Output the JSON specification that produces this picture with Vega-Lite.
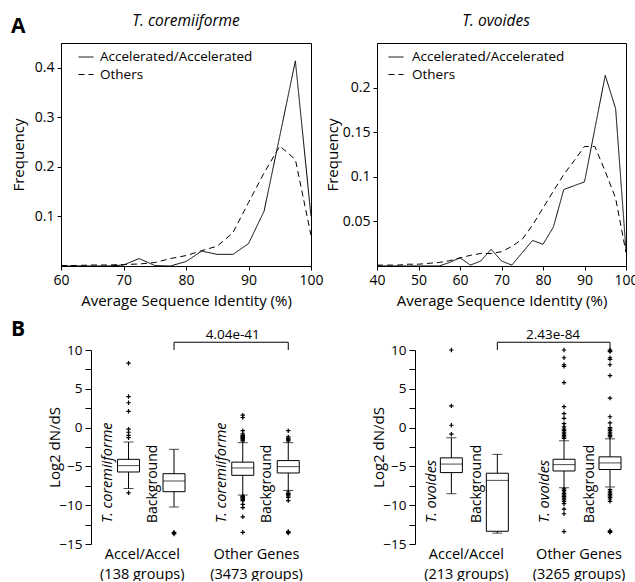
{
  "$schema": "https://vega.github.io/schema/vega-lite/v6.json",
  "padding": {"left": 10, "top": 13, "right": 2, "bottom": 0},
  "background": "white",
  "config": {
    "font": "Open Sans",
    "view": {"stroke": "black", "strokeWidth": 1},
    "axis": {"labelFont": "Open Sans", "titleFont": "Open Sans", "labelColor": "black", "titleColor": "black", "domainColor": "black", "tickColor": "black", "labelFontSize": 14, "titleFontSize": 15, "titleFontWeight": "normal", "grid": false, "tickSize": 4, "labelPadding": 3, "labelOverlap": false},
    "legend": {"labelFont": "Open Sans", "labelFontSize": 13.5, "labelColor": "black"},
    "text": {"font": "Open Sans", "color": "black"}
  },
  "datasets": {
    "tl": [
      {"identity": 60, "freq": 0, "type": "Accelerated/Accelerated"},
      {"identity": 62.5, "freq": 0, "type": "Accelerated/Accelerated"},
      {"identity": 65, "freq": 0, "type": "Accelerated/Accelerated"},
      {"identity": 67.5, "freq": 0, "type": "Accelerated/Accelerated"},
      {"identity": 70, "freq": 0.002, "type": "Accelerated/Accelerated"},
      {"identity": 72.5, "freq": 0.015, "type": "Accelerated/Accelerated"},
      {"identity": 75, "freq": 0.001, "type": "Accelerated/Accelerated"},
      {"identity": 77.5, "freq": 0, "type": "Accelerated/Accelerated"},
      {"identity": 80, "freq": 0.009, "type": "Accelerated/Accelerated"},
      {"identity": 82.5, "freq": 0.030, "type": "Accelerated/Accelerated"},
      {"identity": 85, "freq": 0.0235, "type": "Accelerated/Accelerated"},
      {"identity": 87.5, "freq": 0.0235, "type": "Accelerated/Accelerated"},
      {"identity": 90, "freq": 0.045, "type": "Accelerated/Accelerated"},
      {"identity": 92.5, "freq": 0.111, "type": "Accelerated/Accelerated"},
      {"identity": 95, "freq": 0.262, "type": "Accelerated/Accelerated"},
      {"identity": 97.5, "freq": 0.414, "type": "Accelerated/Accelerated"},
      {"identity": 100, "freq": 0.10, "type": "Accelerated/Accelerated"},
      {"identity": 60, "freq": 0.001, "type": "Others"},
      {"identity": 62.5, "freq": 0.001, "type": "Others"},
      {"identity": 65, "freq": 0.002, "type": "Others"},
      {"identity": 67.5, "freq": 0.002, "type": "Others"},
      {"identity": 70, "freq": 0.003, "type": "Others"},
      {"identity": 72.5, "freq": 0.004, "type": "Others"},
      {"identity": 75, "freq": 0.007, "type": "Others"},
      {"identity": 77.5, "freq": 0.015, "type": "Others"},
      {"identity": 80, "freq": 0.021, "type": "Others"},
      {"identity": 82.5, "freq": 0.031, "type": "Others"},
      {"identity": 85, "freq": 0.040, "type": "Others"},
      {"identity": 87.5, "freq": 0.067, "type": "Others"},
      {"identity": 90, "freq": 0.128, "type": "Others"},
      {"identity": 92.5, "freq": 0.188, "type": "Others"},
      {"identity": 95, "freq": 0.242, "type": "Others"},
      {"identity": 97.5, "freq": 0.215, "type": "Others"},
      {"identity": 100, "freq": 0.062, "type": "Others"}
    ],
    "tr": [
      {"identity": 40, "freq": 0, "type": "Accelerated/Accelerated"},
      {"identity": 42.5, "freq": 0, "type": "Accelerated/Accelerated"},
      {"identity": 45, "freq": 0, "type": "Accelerated/Accelerated"},
      {"identity": 47.5, "freq": 0, "type": "Accelerated/Accelerated"},
      {"identity": 50, "freq": 0, "type": "Accelerated/Accelerated"},
      {"identity": 52.5, "freq": 0, "type": "Accelerated/Accelerated"},
      {"identity": 55, "freq": 0, "type": "Accelerated/Accelerated"},
      {"identity": 57.5, "freq": 0.004, "type": "Accelerated/Accelerated"},
      {"identity": 60, "freq": 0.0093, "type": "Accelerated/Accelerated"},
      {"identity": 62.5, "freq": 0.001, "type": "Accelerated/Accelerated"},
      {"identity": 65, "freq": 0.0056, "type": "Accelerated/Accelerated"},
      {"identity": 67.5, "freq": 0.0187, "type": "Accelerated/Accelerated"},
      {"identity": 70, "freq": 0.0056, "type": "Accelerated/Accelerated"},
      {"identity": 72.5, "freq": 0.001, "type": "Accelerated/Accelerated"},
      {"identity": 75, "freq": 0.015, "type": "Accelerated/Accelerated"},
      {"identity": 77.5, "freq": 0.0287, "type": "Accelerated/Accelerated"},
      {"identity": 80, "freq": 0.0243, "type": "Accelerated/Accelerated"},
      {"identity": 82.5, "freq": 0.0436, "type": "Accelerated/Accelerated"},
      {"identity": 85, "freq": 0.0857, "type": "Accelerated/Accelerated"},
      {"identity": 87.5, "freq": 0.09, "type": "Accelerated/Accelerated"},
      {"identity": 90, "freq": 0.0943, "type": "Accelerated/Accelerated"},
      {"identity": 92.5, "freq": 0.154, "type": "Accelerated/Accelerated"},
      {"identity": 95, "freq": 0.2137, "type": "Accelerated/Accelerated"},
      {"identity": 97.5, "freq": 0.1764, "type": "Accelerated/Accelerated"},
      {"identity": 100, "freq": 0.017, "type": "Accelerated/Accelerated"},
      {"identity": 40, "freq": 0.001, "type": "Others"},
      {"identity": 42.5, "freq": 0.001, "type": "Others"},
      {"identity": 45, "freq": 0.001, "type": "Others"},
      {"identity": 47.5, "freq": 0.002, "type": "Others"},
      {"identity": 50, "freq": 0.002, "type": "Others"},
      {"identity": 52.5, "freq": 0.003, "type": "Others"},
      {"identity": 55, "freq": 0.004, "type": "Others"},
      {"identity": 57.5, "freq": 0.006, "type": "Others"},
      {"identity": 60, "freq": 0.009, "type": "Others"},
      {"identity": 62.5, "freq": 0.012, "type": "Others"},
      {"identity": 65, "freq": 0.014, "type": "Others"},
      {"identity": 67.5, "freq": 0.014, "type": "Others"},
      {"identity": 70, "freq": 0.016, "type": "Others"},
      {"identity": 72.5, "freq": 0.022, "type": "Others"},
      {"identity": 75, "freq": 0.030, "type": "Others"},
      {"identity": 77.5, "freq": 0.046, "type": "Others"},
      {"identity": 80, "freq": 0.065, "type": "Others"},
      {"identity": 82.5, "freq": 0.084, "type": "Others"},
      {"identity": 85, "freq": 0.1025, "type": "Others"},
      {"identity": 87.5, "freq": 0.118, "type": "Others"},
      {"identity": 90, "freq": 0.134, "type": "Others"},
      {"identity": 92.5, "freq": 0.134, "type": "Others"},
      {"identity": 95, "freq": 0.106, "type": "Others"},
      {"identity": 97.5, "freq": 0.076, "type": "Others"},
      {"identity": 100, "freq": 0.015, "type": "Others"}
    ],
    "bl_box": [
      {"group": "Accel/Accel", "series": "T. coremiiforme", "lo": -7.85, "q1": -5.72, "med": -4.9, "q3": -4.09, "hi": -1.86},
      {"group": "Accel/Accel", "series": "Background", "lo": -10.23, "q1": -8.26, "med": -6.88, "q3": -5.94, "hi": -2.8},
      {"group": "Other Genes", "series": "T. coremiiforme", "lo": -8.69, "q1": -6.15, "med": -5.2, "q3": -4.45, "hi": -1.94},
      {"group": "Other Genes", "series": "Background", "lo": -8.1, "q1": -5.85, "med": -5.03, "q3": -4.25, "hi": -1.94}
    ],
    "bl_out": [
      {"group": "Accel/Accel", "series": "T. coremiiforme", "v": 8.3},
      {"group": "Accel/Accel", "series": "T. coremiiforme", "v": 4.0},
      {"group": "Accel/Accel", "series": "T. coremiiforme", "v": 3.2},
      {"group": "Accel/Accel", "series": "T. coremiiforme", "v": 2.1},
      {"group": "Accel/Accel", "series": "T. coremiiforme", "v": -0.2},
      {"group": "Accel/Accel", "series": "T. coremiiforme", "v": -0.6},
      {"group": "Accel/Accel", "series": "T. coremiiforme", "v": -1.0},
      {"group": "Accel/Accel", "series": "T. coremiiforme", "v": -1.3},
      {"group": "Accel/Accel", "series": "T. coremiiforme", "v": -8.4},
      {"group": "Accel/Accel", "series": "Background", "v": -13.5},
      {"group": "Accel/Accel", "series": "Background", "v": -13.6},
      {"group": "Accel/Accel", "series": "Background", "v": -13.7},
      {"group": "Other Genes", "series": "T. coremiiforme", "v": 1.6},
      {"group": "Other Genes", "series": "T. coremiiforme", "v": 1.3},
      {"group": "Other Genes", "series": "T. coremiiforme", "v": -0.4},
      {"group": "Other Genes", "series": "T. coremiiforme", "v": -0.8},
      {"group": "Other Genes", "series": "T. coremiiforme", "v": -1.0},
      {"group": "Other Genes", "series": "T. coremiiforme", "v": -1.1},
      {"group": "Other Genes", "series": "T. coremiiforme", "v": -1.2},
      {"group": "Other Genes", "series": "T. coremiiforme", "v": -1.3},
      {"group": "Other Genes", "series": "T. coremiiforme", "v": -1.4},
      {"group": "Other Genes", "series": "T. coremiiforme", "v": -1.5},
      {"group": "Other Genes", "series": "T. coremiiforme", "v": -1.6},
      {"group": "Other Genes", "series": "T. coremiiforme", "v": -1.7},
      {"group": "Other Genes", "series": "T. coremiiforme", "v": -8.8},
      {"group": "Other Genes", "series": "T. coremiiforme", "v": -8.9},
      {"group": "Other Genes", "series": "T. coremiiforme", "v": -9.0},
      {"group": "Other Genes", "series": "T. coremiiforme", "v": -9.1},
      {"group": "Other Genes", "series": "T. coremiiforme", "v": -9.2},
      {"group": "Other Genes", "series": "T. coremiiforme", "v": -9.3},
      {"group": "Other Genes", "series": "T. coremiiforme", "v": -9.4},
      {"group": "Other Genes", "series": "T. coremiiforme", "v": -9.9},
      {"group": "Other Genes", "series": "T. coremiiforme", "v": -10.3},
      {"group": "Other Genes", "series": "T. coremiiforme", "v": -11.5},
      {"group": "Other Genes", "series": "T. coremiiforme", "v": -13.5},
      {"group": "Other Genes", "series": "Background", "v": -0.4},
      {"group": "Other Genes", "series": "Background", "v": -1.2},
      {"group": "Other Genes", "series": "Background", "v": -1.4},
      {"group": "Other Genes", "series": "Background", "v": -1.5},
      {"group": "Other Genes", "series": "Background", "v": -1.6},
      {"group": "Other Genes", "series": "Background", "v": -1.7},
      {"group": "Other Genes", "series": "Background", "v": -8.3},
      {"group": "Other Genes", "series": "Background", "v": -8.5},
      {"group": "Other Genes", "series": "Background", "v": -8.6},
      {"group": "Other Genes", "series": "Background", "v": -8.8},
      {"group": "Other Genes", "series": "Background", "v": -9.0},
      {"group": "Other Genes", "series": "Background", "v": -9.4},
      {"group": "Other Genes", "series": "Background", "v": -13.4},
      {"group": "Other Genes", "series": "Background", "v": -13.5},
      {"group": "Other Genes", "series": "Background", "v": -13.6}
    ],
    "bl_br": [
      {"group": "Accel/Accel", "series": "Background", "v": 10, "o": 1},
      {"group": "Accel/Accel", "series": "Background", "v": 11, "o": 2},
      {"group": "Other Genes", "series": "Background", "v": 11, "o": 3},
      {"group": "Other Genes", "series": "Background", "v": 10, "o": 4}
    ],
    "bl_p": [{"group": "Other Genes", "series": "T. coremiiforme", "p": "4.04e-41"}],
    "br_box": [
      {"group": "Accel/Accel", "series": "T. ovoides", "lo": -8.52, "q1": -5.8, "med": -4.7, "q3": -3.9, "hi": -1.31},
      {"group": "Accel/Accel", "series": "Background", "lo": -13.6, "q1": -13.36, "med": -6.8, "q3": -5.88, "hi": -3.45},
      {"group": "Other Genes", "series": "T. ovoides", "lo": -7.75, "q1": -5.59, "med": -4.77, "q3": -4.08, "hi": -1.7},
      {"group": "Other Genes", "series": "Background", "lo": -7.65, "q1": -5.4, "med": -4.55, "q3": -3.77, "hi": -1.45}
    ],
    "br_out": [
      {"group": "Accel/Accel", "series": "T. ovoides", "v": 10},
      {"group": "Accel/Accel", "series": "T. ovoides", "v": 2.8},
      {"group": "Accel/Accel", "series": "T. ovoides", "v": 0.3},
      {"group": "Accel/Accel", "series": "T. ovoides", "v": -0.85},
      {"group": "Other Genes", "series": "T. ovoides", "v": 10},
      {"group": "Other Genes", "series": "T. ovoides", "v": 9.0},
      {"group": "Other Genes", "series": "T. ovoides", "v": 8.1},
      {"group": "Other Genes", "series": "T. ovoides", "v": 7.9},
      {"group": "Other Genes", "series": "T. ovoides", "v": 5.8},
      {"group": "Other Genes", "series": "T. ovoides", "v": 2.7},
      {"group": "Other Genes", "series": "T. ovoides", "v": 1.8},
      {"group": "Other Genes", "series": "T. ovoides", "v": 1.2},
      {"group": "Other Genes", "series": "T. ovoides", "v": 0.5},
      {"group": "Other Genes", "series": "T. ovoides", "v": 0.1},
      {"group": "Other Genes", "series": "T. ovoides", "v": -0.2},
      {"group": "Other Genes", "series": "T. ovoides", "v": -0.4},
      {"group": "Other Genes", "series": "T. ovoides", "v": -0.6},
      {"group": "Other Genes", "series": "T. ovoides", "v": -0.8},
      {"group": "Other Genes", "series": "T. ovoides", "v": -1.0},
      {"group": "Other Genes", "series": "T. ovoides", "v": -1.2},
      {"group": "Other Genes", "series": "T. ovoides", "v": -1.4},
      {"group": "Other Genes", "series": "T. ovoides", "v": -7.9},
      {"group": "Other Genes", "series": "T. ovoides", "v": -8.1},
      {"group": "Other Genes", "series": "T. ovoides", "v": -8.3},
      {"group": "Other Genes", "series": "T. ovoides", "v": -8.5},
      {"group": "Other Genes", "series": "T. ovoides", "v": -8.7},
      {"group": "Other Genes", "series": "T. ovoides", "v": -8.9},
      {"group": "Other Genes", "series": "T. ovoides", "v": -9.1},
      {"group": "Other Genes", "series": "T. ovoides", "v": -9.3},
      {"group": "Other Genes", "series": "T. ovoides", "v": -9.5},
      {"group": "Other Genes", "series": "T. ovoides", "v": -9.8},
      {"group": "Other Genes", "series": "T. ovoides", "v": -10.5},
      {"group": "Other Genes", "series": "T. ovoides", "v": -11.1},
      {"group": "Other Genes", "series": "T. ovoides", "v": -13.4},
      {"group": "Other Genes", "series": "Background", "v": 10},
      {"group": "Other Genes", "series": "Background", "v": 9.9},
      {"group": "Other Genes", "series": "Background", "v": 9.8},
      {"group": "Other Genes", "series": "Background", "v": 9.0},
      {"group": "Other Genes", "series": "Background", "v": 8.8},
      {"group": "Other Genes", "series": "Background", "v": 8.1},
      {"group": "Other Genes", "series": "Background", "v": 6.7},
      {"group": "Other Genes", "series": "Background", "v": 3.8},
      {"group": "Other Genes", "series": "Background", "v": 1.4},
      {"group": "Other Genes", "series": "Background", "v": 0.6},
      {"group": "Other Genes", "series": "Background", "v": 0.0},
      {"group": "Other Genes", "series": "Background", "v": -0.2},
      {"group": "Other Genes", "series": "Background", "v": -0.4},
      {"group": "Other Genes", "series": "Background", "v": -0.6},
      {"group": "Other Genes", "series": "Background", "v": -0.8},
      {"group": "Other Genes", "series": "Background", "v": -1.0},
      {"group": "Other Genes", "series": "Background", "v": -1.2},
      {"group": "Other Genes", "series": "Background", "v": -8.0},
      {"group": "Other Genes", "series": "Background", "v": -8.2},
      {"group": "Other Genes", "series": "Background", "v": -8.4},
      {"group": "Other Genes", "series": "Background", "v": -8.6},
      {"group": "Other Genes", "series": "Background", "v": -8.8},
      {"group": "Other Genes", "series": "Background", "v": -9.0},
      {"group": "Other Genes", "series": "Background", "v": -9.2},
      {"group": "Other Genes", "series": "Background", "v": -9.5},
      {"group": "Other Genes", "series": "Background", "v": -13.3},
      {"group": "Other Genes", "series": "Background", "v": -13.4},
      {"group": "Other Genes", "series": "Background", "v": -13.5}
    ],
    "br_br": [
      {"group": "Accel/Accel", "series": "Background", "v": 10, "o": 1},
      {"group": "Accel/Accel", "series": "Background", "v": 11, "o": 2},
      {"group": "Other Genes", "series": "Background", "v": 11, "o": 3},
      {"group": "Other Genes", "series": "Background", "v": 10, "o": 4}
    ],
    "br_p": [{"group": "Other Genes", "series": "T. ovoides", "p": "2.43e-84"}]
  },
  "columns": 2,
  "spacing": {"row": 84, "column": 66},
  "bounds": "flush",
  "align": "each",
  "concat": [
    {
      "width": 250,
      "height": 223,
      "layer": [
        {
          "data": {"name": "tl"},
          "mark": {"type": "line", "color": "black", "strokeWidth": 1},
          "encoding": {
            "x": {"field": "identity", "type": "quantitative", "scale": {"domain": [60, 100], "nice": false, "zero": false},
                  "axis": {"title": "Average Sequence Identity (%)", "values": [60, 70, 80, 90, 100], "labelFlush": false, "titlePadding": 6}},
            "y": {"field": "freq", "type": "quantitative", "scale": {"domain": [0, 0.45], "nice": false},
                  "axis": {"title": "Frequency", "values": [0.1, 0.2, 0.3, 0.4], "format": "~g", "titlePadding": 7.5}},
            "strokeDash": {"field": "type", "type": "nominal",
                  "scale": {"domain": ["Accelerated/Accelerated", "Others"], "range": [[1, 0], [6, 4]]},
                  "legend": {"title": null, "orient": "none", "legendX": 17, "legendY": 6, "symbolType": "stroke", "symbolSize": 225, "symbolStrokeColor": "black", "symbolStrokeWidth": 1, "labelOffset": 6, "rowPadding": 2.5, "padding": 0}}
          }
        },
        {
          "data": {"values": [{}]},
          "mark": {"type": "text", "text": "T. coremiiforme", "fontStyle": "italic", "fontSize": 15.5, "align": "center", "baseline": "alphabetic"},
          "encoding": {"x": {"datum": 80, "type": "quantitative"}, "y": {"datum": 0.4843, "type": "quantitative"}}
        },
        {
          "data": {"values": [{}]},
          "mark": {"type": "text", "text": "A", "fontWeight": "bold", "fontSize": 21, "align": "left", "baseline": "alphabetic"},
          "encoding": {"x": {"datum": 52, "type": "quantitative"}, "y": {"datum": 0.4702, "type": "quantitative"}}
        },
        {
          "data": {"values": [{}]},
          "mark": {"type": "text", "text": "B", "fontWeight": "bold", "fontSize": 21, "align": "left", "baseline": "alphabetic"},
          "encoding": {"x": {"datum": 52, "type": "quantitative"}, "y": {"datum": -0.1413, "type": "quantitative"}}
        }
      ]
    },
    {
      "width": 249,
      "height": 223,
      "layer": [
        {
          "data": {"name": "tr"},
          "mark": {"type": "line", "color": "black", "strokeWidth": 1},
          "encoding": {
            "x": {"field": "identity", "type": "quantitative", "scale": {"domain": [40, 100], "nice": false, "zero": false},
                  "axis": {"title": "Average Sequence Identity (%)", "values": [40, 50, 60, 70, 80, 90, 100], "labelFlush": false, "titlePadding": 6}},
            "y": {"field": "freq", "type": "quantitative", "scale": {"domain": [0, 0.25], "nice": false},
                  "axis": {"title": "Frequency", "values": [0.05, 0.1, 0.15, 0.2], "format": "~g", "titlePadding": 1.5}},
            "strokeDash": {"field": "type", "type": "nominal",
                  "scale": {"domain": ["Accelerated/Accelerated", "Others"], "range": [[1, 0], [6, 4]]},
                  "legend": {"title": null, "orient": "none", "legendX": 11, "legendY": 6, "symbolType": "stroke", "symbolSize": 225, "symbolStrokeColor": "black", "symbolStrokeWidth": 1, "labelOffset": 8, "rowPadding": 2.5, "padding": 0}}
          }
        },
        {
          "data": {"values": [{}]},
          "mark": {"type": "text", "text": "T. ovoides", "fontStyle": "italic", "fontSize": 15.5, "align": "center", "baseline": "alphabetic"},
          "encoding": {"x": {"datum": 68.7, "type": "quantitative"}, "y": {"datum": 0.269, "type": "quantitative"}}
        }
      ]
    },
    {
      "width": 250,
      "height": 194,
      "view": {"stroke": null},
      "resolve": {"axis": {"y": "independent"}},
      "encoding": {
        "x": {"field": "group", "type": "nominal",
              "scale": {"domain": ["Accel/Accel", "Other Genes"], "paddingInner": 0.2035, "paddingOuter": 0.196, "align": 1},
              "axis": {"title": null, "domain": false, "ticks": false, "labelAngle": 0, "labelPadding": 3, "labelFontSize": 14.5, "labelLineHeight": 20, "labelOffset": -9, "labelBaseline": "top",
                       "labelExpr": "datum.value == 'Accel/Accel' ? ['Accel/Accel', '(138 groups)'] : ['Other Genes', '(3473 groups)']"}},
        "xOffset": {"field": "series", "type": "nominal", "scale": {"domain": ["T. coremiiforme", "Background"], "paddingInner": 0, "paddingOuter": 0}}
      },
      "layer": [
        {
          "data": {"name": "bl_box"},
          "mark": {"type": "rule", "color": "black", "strokeWidth": 1},
          "encoding": {
            "y": {"field": "lo", "type": "quantitative", "scale": {"domain": [-15, 10], "nice": false, "zero": false},
                  "axis": {"title": "Log2 dN/dS", "orient": "left", "offset": -30, "tickSize": 6, "labelFontSize": 13.5, "values": [-15, -10, -5, 0, 5, 10], "titlePadding": -3.5}},
            "y2": {"field": "hi"}
          }
        },
        {
          "data": {"name": "bl_box"},
          "mark": {"type": "bar", "fill": "white", "stroke": "black", "strokeWidth": 1, "width": 22},
          "encoding": {"y": {"field": "q1", "type": "quantitative", "axis": {"orient": "left", "offset": -30, "tickSize": 6, "values": [-12.5, -7.5, -2.5, 2.5, 7.5], "labels": false, "domain": false, "title": null}}, "y2": {"field": "q3"}}
        },
        {
          "data": {"name": "bl_box"},
          "mark": {"type": "tick", "color": "black", "size": 22, "thickness": 1},
          "encoding": {"y": {"field": "med", "type": "quantitative", "axis": null}}
        },
        {
          "data": {"name": "bl_box"},
          "mark": {"type": "tick", "color": "black", "size": 10, "thickness": 1},
          "encoding": {"y": {"field": "lo", "type": "quantitative", "axis": null}}
        },
        {
          "data": {"name": "bl_box"},
          "mark": {"type": "tick", "color": "black", "size": 10, "thickness": 1},
          "encoding": {"y": {"field": "hi", "type": "quantitative", "axis": null}}
        },
        {
          "data": {"name": "bl_out"},
          "mark": {"type": "point", "shape": "M-1,0L1,0M0,-1L0,1", "filled": false, "stroke": "black", "strokeWidth": 1.2, "size": 20, "opacity": 1},
          "encoding": {"y": {"field": "v", "type": "quantitative", "axis": null}}
        },
        {
          "data": {"name": "bl_box"},
          "transform": [{"filter": "datum.series != 'Background'"}],
          "mark": {"type": "text", "angle": 270, "align": "left", "baseline": "middle", "fontSize": 14.5, "fontStyle": "italic", "dy": -21},
          "encoding": {"y": {"datum": -12.3, "type": "quantitative", "axis": null}, "text": {"field": "series"}}
        },
        {
          "data": {"name": "bl_box"},
          "transform": [{"filter": "datum.series == 'Background'"}],
          "mark": {"type": "text", "angle": 270, "align": "left", "baseline": "middle", "fontSize": 14, "dy": -21},
          "encoding": {"y": {"datum": -12.3, "type": "quantitative", "axis": null}, "text": {"field": "series"}}
        },
        {
          "data": {"name": "bl_br"},
          "mark": {"type": "line", "color": "black", "strokeWidth": 1},
          "encoding": {"y": {"field": "v", "type": "quantitative", "axis": null}, "order": {"field": "o"}}
        },
        {
          "data": {"name": "bl_p"},
          "mark": {"type": "text", "fontSize": 13.5, "align": "center", "baseline": "alphabetic", "dx": -10},
          "encoding": {"y": {"datum": 11.42, "type": "quantitative", "axis": null}, "text": {"field": "p"}}
        }
      ]
    },
    {
      "width": 256,
      "height": 194,
      "view": {"stroke": null},
      "resolve": {"axis": {"y": "independent"}},
      "encoding": {
        "x": {"field": "group", "type": "nominal",
              "scale": {"domain": ["Accel/Accel", "Other Genes"], "paddingInner": 0.184, "paddingOuter": 0.228, "align": 1},
              "axis": {"title": null, "domain": false, "ticks": false, "labelAngle": 0, "labelPadding": 3, "labelFontSize": 14.5, "labelLineHeight": 20, "labelOffset": -8, "labelBaseline": "top",
                       "labelExpr": "datum.value == 'Accel/Accel' ? ['Accel/Accel', '(213 groups)'] : ['Other Genes', '(3265 groups)']"}},
        "xOffset": {"field": "series", "type": "nominal", "scale": {"domain": ["T. ovoides", "Background"], "paddingInner": 0, "paddingOuter": 0}}
      },
      "layer": [
        {
          "data": {"name": "br_box"},
          "mark": {"type": "rule", "color": "black", "strokeWidth": 1},
          "encoding": {
            "y": {"field": "lo", "type": "quantitative", "scale": {"domain": [-15, 10], "nice": false, "zero": false},
                  "axis": {"title": "Log2 dN/dS", "orient": "left", "offset": -38, "tickSize": 6, "labelFontSize": 13.5, "values": [-15, -10, -5, 0, 5, 10], "titlePadding": -4}},
            "y2": {"field": "hi"}
          }
        },
        {
          "data": {"name": "br_box"},
          "mark": {"type": "bar", "fill": "white", "stroke": "black", "strokeWidth": 1, "width": 22},
          "encoding": {"y": {"field": "q1", "type": "quantitative", "axis": {"orient": "left", "offset": -38, "tickSize": 6, "values": [-12.5, -7.5, -2.5, 2.5, 7.5], "labels": false, "domain": false, "title": null}}, "y2": {"field": "q3"}}
        },
        {
          "data": {"name": "br_box"},
          "mark": {"type": "tick", "color": "black", "size": 22, "thickness": 1},
          "encoding": {"y": {"field": "med", "type": "quantitative", "axis": null}}
        },
        {
          "data": {"name": "br_box"},
          "mark": {"type": "tick", "color": "black", "size": 10, "thickness": 1},
          "encoding": {"y": {"field": "lo", "type": "quantitative", "axis": null}}
        },
        {
          "data": {"name": "br_box"},
          "mark": {"type": "tick", "color": "black", "size": 10, "thickness": 1},
          "encoding": {"y": {"field": "hi", "type": "quantitative", "axis": null}}
        },
        {
          "data": {"name": "br_out"},
          "mark": {"type": "point", "shape": "M-1,0L1,0M0,-1L0,1", "filled": false, "stroke": "black", "strokeWidth": 1.2, "size": 20, "opacity": 1},
          "encoding": {"y": {"field": "v", "type": "quantitative", "axis": null}}
        },
        {
          "data": {"name": "br_box"},
          "transform": [{"filter": "datum.series != 'Background'"}],
          "mark": {"type": "text", "angle": 270, "align": "left", "baseline": "middle", "fontSize": 14.5, "fontStyle": "italic", "dy": -19},
          "encoding": {"y": {"datum": -12.3, "type": "quantitative", "axis": null}, "text": {"field": "series"}}
        },
        {
          "data": {"name": "br_box"},
          "transform": [{"filter": "datum.series == 'Background'"}],
          "mark": {"type": "text", "angle": 270, "align": "left", "baseline": "middle", "fontSize": 14, "dy": -20},
          "encoding": {"y": {"datum": -12.3, "type": "quantitative", "axis": null}, "text": {"field": "series"}}
        },
        {
          "data": {"name": "br_br"},
          "mark": {"type": "line", "color": "black", "strokeWidth": 1},
          "encoding": {"y": {"field": "v", "type": "quantitative", "axis": null}, "order": {"field": "o"}}
        },
        {
          "data": {"name": "br_p"},
          "mark": {"type": "text", "fontSize": 13.5, "align": "center", "baseline": "alphabetic", "dx": -11},
          "encoding": {"y": {"datum": 11.4, "type": "quantitative", "axis": null}, "text": {"field": "p"}}
        }
      ]
    }
  ],
  "resolve": {"scale": {"x": "independent", "y": "independent", "strokeDash": "independent", "xOffset": "independent"}, "legend": {"strokeDash": "independent"}}
}
